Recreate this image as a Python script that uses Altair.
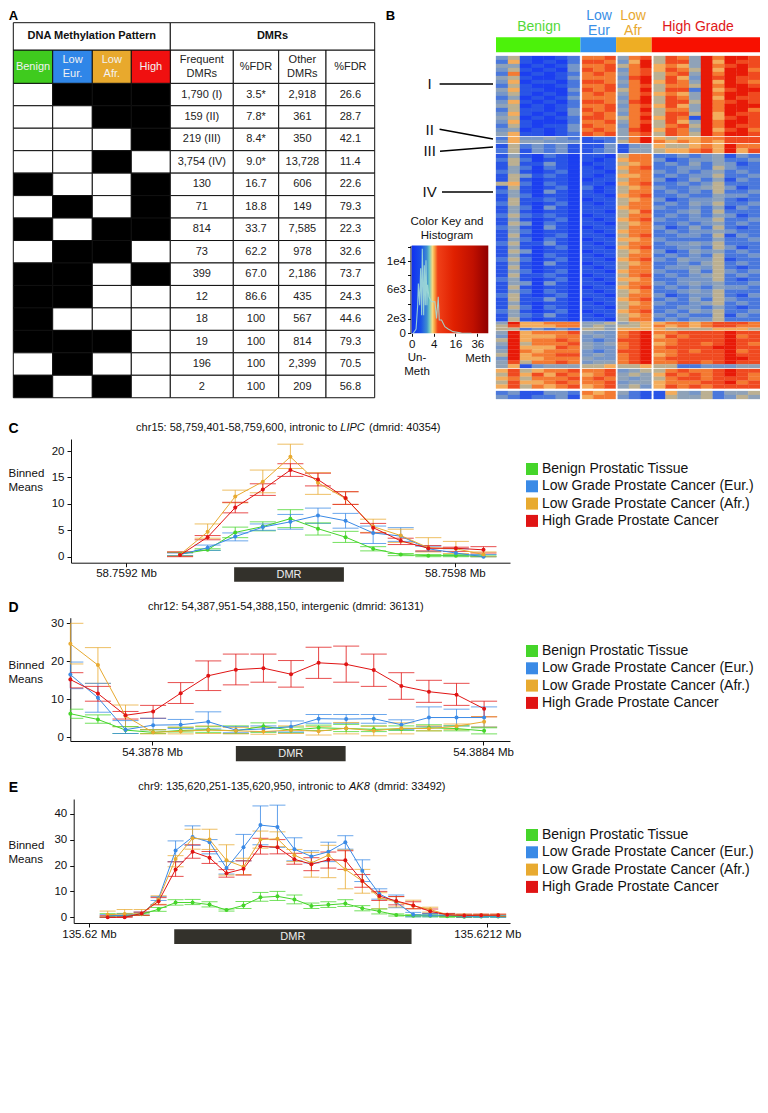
import altair as alt
import pandas as pd

FONT = "Liberation Sans"
W, H = 752, 1097
SERIES = ["Benign Prostatic Tissue", "Low Grade Prostate Cancer (Eur.)",
          "Low Grade Prostate Cancer (Afr.)", "High Grade Prostate Cancer"]
LINE_COLORS = ["#45d52a", "#3a8ae6", "#e8aa30", "#e01414"]

# ---------- Panel A ----------
PATTERNS = ["0111", "0011", "0001", "0010", "1001", "0101", "1011",
            "0110", "1101", "1100", "1000", "1110", "0100", "1010"]
FREQ = ["1,790 (I)", "159 (II)", "219 (III)", "3,754 (IV)", "130", "71", "814",
        "73", "399", "12", "18", "19", "196", "2"]
FDR1 = ["3.5*", "7.8*", "8.4*", "9.0*", "16.7", "18.8", "33.7", "62.2", "67.0",
        "86.6", "100", "100", "100", "100"]
OTHER = ["2,918", "361", "350", "13,728", "606", "149", "7,585", "978", "2,186",
         "435", "567", "814", "2,399", "209"]
FDR2 = ["26.6", "28.7", "42.1", "11.4", "22.6", "79.3", "22.3", "32.6", "73.7",
        "24.3", "44.6", "79.3", "70.5", "56.8"]
HEAD_PATTERN = ["Benign", "Low\nEur.", "Low\nAfr.", "High"]
HEAD_PATTERN_COLORS = ["#3fcb1e", "#2f86e8", "#e8a92d", "#f01010"]
HEAD_DMR = ["Frequent\nDMRs", "%FDR", "Other\nDMRs", "%FDR"]

# ---------- Panel B ----------
GROUPS = ["Benign", "Low\nEur", "Low\nAfr", "High Grade"]
GROUP_TEXT = ["#55d83a", "#3a8fe6", "#e8a830", "#e01818"]
GROUP_BAR = ["#4cf20a", "#3490ee", "#eeae24", "#f81000"]
LEVEL_COLORS = ["#1c3ff0", "#2a55e6", "#4a78dc", "#7696c8", "#8fa2b8", "#bcb092",
                "#f4ac5c", "#f47a32", "#f04a20", "#e81a08"]
BLOCK_I = ["3510012 778 478 587497998", "2610102 887 369 588496988", "4401013 778 579 676497898",
           "3510103 878 378 687596997", "2701012 787 478 578497998", "4510013 777 389 586398988",
           "3601102 887 479 687496987", "2510012 778 378 577597998", "4611003 878 579 588296899",
           "3510102 787 478 676497998", "2401013 777 379 587496988", "3610102 887 489 588597898",
           "4501012 778 378 686497999", "2511013 878 479 577497997", "3610103 787 378 588596988",
           "4501012 887 579 687196898", "3610002 778 478 586497998", "2510113 877 379 578597988",
           "3401013 787 489 687496897", "4611012 878 478 587597998"]
BLOCK_II = ["2633432 122 479 656677888", "3644333 112 579 767676888"]
BLOCK_III = ["1523231 113 134 655676977", "2513231 123 144 566786968"]
BLOCK_IV = ["1410210 110 577 223234132", "2520110 101 677 312334223", "1511310 011 567 232424312",
            "1420210 101 678 223325322", "2410120 110 577 323234232", "1531210 101 667 232335223",
            "1510110 011 577 312424132", "5620210 110 678 223235222", "1510120 201 567 322345312",
            "2410310 101 577 232325223", "1420110 110 678 223224332", "1511210 011 567 312334212",
            "2510120 101 577 232435223", "1420310 111 677 322324132", "1410110 110 568 223425222",
            "2521210 011 577 232324312", "1410120 101 678 322335223", "1530210 110 567 223234232",
            "2410310 011 577 312425212", "1420110 101 677 232334322", "1510120 110 578 223325132",
            "1420210 011 667 322224223", "2511310 101 577 233435222", "1410120 110 678 223325312",
            "1530110 011 567 312434232", "1410210 101 577 232325223", "2520120 110 678 324335122",
            "1410310 011 567 223245232", "1510110 101 577 233435212", "1420120 110 677 322425323",
            "1511210 011 578 232345232", "2410120 101 667 223335212", "1430310 110 577 323434223",
            "1510110 011 678 232324332", "1420210 101 567 223435222", "2510120 110 577 312335213",
            "1511310 011 678 232425322", "1410110 101 567 322345232", "1520210 110 577 223324212",
            "2410120 011 678 232435223", "1421310 101 567 323225132", "1510110 110 577 232335222"]
BLOCK_V = ["4966777 445 456 677678887", "5866677 454 556 767678877"]
BLOCK_VI = ["5523232 554 666 655556665"]
BLOCK_VII = ["4967778 433 789 778888988", "3966677 343 789 687888978", "5967787 323 889 778888988",
             "4957778 434 789 678878987", "3966687 433 789 788889988", "4976777 323 889 778788978",
             "5967788 343 789 678888988", "3966777 433 789 788888998", "4857787 344 789 778878988",
             "4613444 556 556 552233344"]
BLOCK_VIII = ["6856778 778 345 578778988", "5868687 678 454 687878987", "6757778 787 434 578878887",
              "5866787 778 344 677788978", "6857678 678 453 687878888"]
BLOCK_IX = ["2311332 767 421 164352445", "3212231 677 321 154452354"]
BLOCKS = [BLOCK_I, BLOCK_II, BLOCK_III, BLOCK_IV, BLOCK_V, BLOCK_VI, BLOCK_VII, BLOCK_VIII, BLOCK_IX]
ROMAN = ["I", "II", "III", "IV"]

KEY_TICKS_X = [0, 4, 16, 36]
KEY_TICKS_Y = [0, 2000, 4000, 6000, 8000, 10000, 12000]
HIST_V = [0.02, 0.16, 0.3, 0.37, 0.53, 0.67, 0.83, 0.94, 1.19, 1.33, 1.54, 1.7, 1.94, 2.12, 2.48,
          3.3, 4.12, 4.5, 5.17, 5.88, 6.33, 7.44, 9.18, 11.1, 14.3, 20.7, 29.8]
HIST_N = [0, 600, 3900, 6900, 3900, 9000, 2500, 11700, 2500, 9400, 3900, 10100, 3900, 6700, 5060,
          4370, 4370, 4370, 2070, 5060, 1840, 1840, 920, 600, 230, 50, 0]

# ---------- Panel C ----------
C_X = [58.759303, 58.759353, 58.759403, 58.759453, 58.759503, 58.759553, 58.759603, 58.759653,
       58.759703, 58.759753, 58.759803, 58.759853]
C_RED = [.3, 3.7, 9.3, 12.7, 16.4, 14.6, 11.1, 5.5, 3, 1.6, 1.6, 1.3]
C_RED_LO = [0, 3.2, 8.3, 11.6, 15.2, 13.4, 9.9, 4.5, 2.3, 1.1, 1, .7]
C_RED_HI = [.9, 4, 10.3, 13.8, 17.6, 15.8, 12.3, 6.3, 3.5, 2.1, 1.8, 1.9]
C_ORA = [.4, 4.7, 11.4, 14.2, 18.9, 14, 11, 5.7, 4, 1.7, 1.5, .4]
C_ORA_LO = [.1, 3.5, 10.2, 12.1, 16.7, 11.8, 9.9, 4.6, 2.7, .9, .6, 0]
C_ORA_HI = [.9, 6.2, 12.6, 16.4, 21.3, 15.9, 12.3, 7.1, 5.2, 3.6, 2.9, .9]
C_BLU = [.4, 1.7, 3.8, 5.6, 6.6, 7.8, 6.8, 4.5, 3.9, 1.5, .7, 0]
C_BLU_LO = [.2, 1.2, 3, 5, 5.2, 6.3, 5.4, 2.5, 2.9, 1, .2, 0]
C_BLU_HI = [.7, 2.2, 4.5, 6.2, 8, 9.2, 8.2, 5.8, 5.5, 2, 1.5, .4]
C_GRN = [.5, 1.3, 4.6, 5.7, 7.2, 5.3, 3.7, 1.5, .4, .2, .2, .1]
C_GRN_LO = [.2, 1.2, 3.6, 4.9, 5.5, 4.1, 2.7, 1.1, .2, 0, 0, 0]
C_GRN_HI = [.8, 1.5, 5.6, 6.6, 8.9, 6.4, 4.8, 1.9, .6, .4, .4, .3]

# ---------- Panel D ----------
D_X = [54.387651, 54.387701, 54.387751, 54.387801, 54.387851, 54.387901, 54.387951, 54.388001,
       54.388051, 54.388101, 54.388151, 54.388201, 54.388251, 54.388301, 54.388351, 54.388401]
D_RED = [15.2, 11.5, 5.8, 6.8, 11.6, 16.2, 17.8, 18.2, 16.6, 19.6, 19.2, 17.7, 13.5, 12, 11.2, 7.5]
D_RED_LO = [13, 9.5, 4.8, 5, 8.9, 12.3, 13.8, 14.5, 13.2, 15.5, 14.5, 13.4, 10, 9.2, 8.4, 5.4]
D_RED_HI = [17, 13.4, 6.8, 8.4, 14.4, 20.1, 21.9, 21.9, 20.2, 23.7, 24, 21.9, 17, 15, 14.2, 9.5]
D_ORA = [24.6, 19, 5.6, 1.3, 1.6, 1.9, 1.7, 1.5, 1.9, 1.6, 2.4, 1.7, 2.4, 2.3, 2.9, 4.1]
D_ORA_LO = [19.3, 14.2, 2.8, .9, .9, 1, .9, .8, 1, .6, .9, .4, .9, 1.7, 2, 2.7]
D_ORA_HI = [30, 23.6, 8.5, 2, 2.7, 3, 2.6, 2.6, 3, 2.8, 3.9, 2.9, 3.8, 3, 3.5, 5.4]
D_BLU = [16.5, 10.4, 2, 3.2, 3.3, 4.1, 1.9, 2.2, 2.8, 4.9, 4.8, 4.9, 3.3, 5.2, 5.2, 5.2]
D_BLU_LO = [12.8, 6.6, 1, 2, 2.3, 2.2, 1.2, 1.5, 1.4, 3.7, 3.7, 3.7, 2, 2.8, 3, 2.7]
D_BLU_HI = [19.8, 14.2, 4.4, 5, 4.7, 6.7, 2.8, 3, 4.3, 6, 6, 6, 4.6, 8, 7.4, 8]
D_GRN = [6.2, 4.7, 1.9, 1.3, 1.8, 2, 1.7, 2.9, 1.9, 2.5, 2.3, 2.1, 2.2, 2.5, 2.3, 1.7]
D_GRN_LO = [5, 3.7, 1, 1, 1.4, 1.3, 1, 1.3, 1.2, 1.8, 1.5, 1.5, 1.8, 1.7, 1.7, .9]
D_GRN_HI = [7.4, 5.9, 2.8, 2, 2.6, 2.8, 3, 3.8, 2.7, 3.2, 3.4, 3, 3, 3.3, 3, 2.5]

# ---------- Panel E ----------
E_X = [135.620055, 135.620105, 135.620155, 135.620205, 135.620255, 135.620305, 135.620355, 135.620405,
       135.620455, 135.620505, 135.620555, 135.620605, 135.620655, 135.620705, 135.620755, 135.620805,
       135.620855, 135.620905, 135.620955, 135.621005, 135.621055, 135.621105, 135.621155, 135.621205]
E_RED = [0, 0, 1.5, 6.2, 18.5, 25.3, 23, 17, 18.7, 27.4, 27, 22.4, 20.5, 22.2, 22, 14, 8.2, 6.3, 4.6, 2.3, 1, .7, .8, .8]
E_RED_LO = [0, 0, .8, 4.8, 15.8, 22.8, 20.8, 15.5, 16.3, 24.4, 24.5, 20.5, 18, 19, 18.5, 11.6, 6.5, 4.8, 3.3, 1.5, .6, .2, .4, .4]
E_RED_HI = [.6, .6, 2, 7.6, 21.4, 28, 25.4, 18.4, 21.8, 30.5, 30, 24.7, 23, 25.2, 25.7, 16.5, 10, 8, 6, 3.2, 1.5, 1.2, 1.2, 1.2]
E_ORA = [1, 1.3, 1.3, 7, 22.5, 30.5, 30, 22, 19.5, 30, 30.3, 24, 21, 24, 18.5, 14, 7.5, 6, 4.5, 3, 1, .8, .8, .8]
E_ORA_LO = [.2, .5, .7, 5, 19.5, 26.3, 26.2, 16.3, 16.5, 26.7, 27.3, 21.5, 15.5, 15.3, 11, 9.3, 3.3, 4, 3.3, 2, .5, .3, .3, .3]
E_ORA_HI = [2.4, 3, 3, 8.3, 23.8, 34, 34, 28, 22.8, 33.3, 33, 26.2, 25, 27.8, 26, 18.5, 9.5, 8, 6.6, 3.9, 1.3, 1.2, 1.2, 1.2]
E_BLU = [.5, .8, 1.3, 7.3, 25.8, 31, 29, 19, 27, 35.6, 34.9, 26.3, 23.5, 25.3, 29, 18, 9, 5.8, 1, .8, .8, .4, .4, .4]
E_BLU_LO = [.1, .3, .8, 6.5, 21.5, 27.8, 24.5, 16.7, 21.8, 28, 27, 21.8, 21, 21.5, 26.3, 13.8, 7, 3.7, .2, .2, .3, 0, 0, 0]
E_BLU_HI = [1, 1.3, 2, 8, 29.5, 35.3, 30, 21.5, 32, 43, 43.3, 30.7, 25.7, 29, 31.5, 22.2, 11, 8.6, 1.9, 1.5, 1.3, 1, 1, .8]
E_GRN = [.5, .7, 1.2, 3.1, 5.7, 5.7, 4.9, 2.8, 4.6, 7.7, 8.1, 6.9, 4.4, 4.8, 5.3, 3.5, 2.3, .9, .6, .6, .4, .2, .3, .3]
E_GRN_LO = [0, .3, .8, 2.3, 4.7, 4.9, 4, 2.4, 3.4, 6.2, 6.5, 5.2, 3.4, 3.8, 4.2, 2.5, 1.3, .5, .2, .2, 0, 0, 0, 0]
E_GRN_HI = [1.4, 1.5, 1.6, 3.8, 6.8, 6.9, 6, 3.2, 6.1, 9.6, 10, 8.6, 5.5, 6, 6.8, 4.5, 3.2, 1.3, 1, 1, .8, .6, .6, .6]

# ---------- layout (page pixels) ----------
TABLE_X = [13.3, 52.7, 92.3, 131.3, 170.3, 233.3, 278.7, 326, 374.7]
TABLE_Y0, TABLE_Y1, TABLE_Y2, TABLE_STEP = 22.7, 50, 83.3, 22.46
HEAT_X = [(496, 579.8), (582.1, 615.7), (617.7, 651.4), (653.7, 760)]
HEAT_N = [7, 3, 3, 9]
BAR_X = [496, 580.4, 616.1, 651.7, 760]
BLOCK_Y = [(56, 136), (137, 143), (144, 153), (154, 321.5), (322, 327.5), (328, 330.3),
           (331, 368), (369, 388.5), (391, 399)]
GROUP_LABEL_X = [539, 599, 633, 698]
GROUP_LABEL_Y = [27, 23.5, 23.5, 27]
ROMAN_X, ROMAN_Y = 429.7, [84, 130, 150.5, 192]
ROMAN_LINES = [(439.6, 84, 493, 84), (439.6, 129.3, 493, 139), (440, 151.3, 493, 147), (442, 192, 493, 192)]

PXX = alt.Scale(domain=[0, 768], range=[-8, 760], nice=False, zero=False)
PXY = alt.Scale(domain=[0, 1113], range=[-8, 1105], nice=False, zero=False)


def mid(t, y, line):
    """y of the first line so that a multi-line text is centred on y."""
    return y - (t.count("\n")) * line / 2


def text_at(t, x, y, size=11, color="#111", weight="normal", style="normal", align="center", line=14):
    return alt.Chart(pd.DataFrame({"t": [t]})).mark_text(
        font=FONT, fontSize=size, color=color, fontWeight=weight, fontStyle=style,
        align=align, baseline="middle", lineBreak="\n", lineHeight=line
    ).encode(x=alt.value(x - 8), y=alt.value(mid(t, y, line) - 8), text="t:N")


def X(f, **k):
    return alt.X(f, scale=PXX, axis=None, **k)


def Y(f, **k):
    return alt.Y(f, scale=PXY, axis=None, **k)


# ---- Panel A ----
cells, texts = [], []
x = TABLE_X
for r in range(14):
    top = TABLE_Y2 + r * TABLE_STEP
    for c in range(4):
        cells.append(dict(x=x[c], x2=x[c + 1], y=top, y2=top + TABLE_STEP,
                          f="#000000" if PATTERNS[r][c] == "1" else "#ffffff"))
    for c, col in enumerate([FREQ, FDR1, OTHER, FDR2]):
        cells.append(dict(x=x[c + 4], x2=x[c + 5], y=top, y2=top + TABLE_STEP, f="#ffffff"))
        texts.append(dict(x=(x[c + 4] + x[c + 5]) / 2, y=top + TABLE_STEP / 2, t=col[r], c="#222222"))
HY = (TABLE_Y1 + TABLE_Y2) / 2
for c in range(4):
    cells.append(dict(x=x[c], x2=x[c + 1], y=TABLE_Y1, y2=TABLE_Y2, f=HEAD_PATTERN_COLORS[c]))
    texts.append(dict(x=(x[c] + x[c + 1]) / 2, y=mid(HEAD_PATTERN[c], HY, 14), t=HEAD_PATTERN[c], c="#f2f2f2"))
    cells.append(dict(x=x[c + 4], x2=x[c + 5], y=TABLE_Y1, y2=TABLE_Y2, f="#ffffff"))
    texts.append(dict(x=(x[c + 4] + x[c + 5]) / 2, y=mid(HEAD_DMR[c], HY, 14), t=HEAD_DMR[c], c="#222222"))
cells.append(dict(x=x[0], x2=x[4], y=TABLE_Y0, y2=TABLE_Y1, f="#ffffff"))
cells.append(dict(x=x[4], x2=x[8], y=TABLE_Y0, y2=TABLE_Y1, f="#ffffff"))
cells_df, texts_df = pd.DataFrame(cells), pd.DataFrame(texts)
head_df = pd.DataFrame(dict(x=[(x[0] + x[4]) / 2, (x[4] + x[8]) / 2], y=[(TABLE_Y0 + TABLE_Y1) / 2] * 2,
                            t=["DNA Methylation Pattern", "DMRs"]))
panel_a = [
    alt.Chart(cells_df).mark_rect(stroke="#111", strokeWidth=1).encode(
        X("x:Q"), x2="x2:Q", y=Y("y:Q"), y2="y2:Q", fill=alt.Fill("f:N", scale=None)),
    alt.Chart(texts_df).mark_text(font=FONT, fontSize=11, baseline="middle", lineBreak="\n", lineHeight=14).encode(
        X("x:Q"), y=Y("y:Q"), text="t:N", color=alt.Color("c:N", scale=None)),
    alt.Chart(head_df).mark_text(font=FONT, fontSize=11, fontWeight="bold", baseline="middle", color="#111").encode(
        X("x:Q"), y=Y("y:Q"), text="t:N"),
]

# ---- Panel B ----
heat = []
col_edges = []
for (a, b), n in zip(HEAT_X, HEAT_N):
    w = (b - a) / n
    col_edges += [(a + i * w, a + (i + 1) * w) for i in range(n)]
for rows, (y0, y1) in zip(BLOCKS, BLOCK_Y):
    h = (y1 - y0) / len(rows)
    for i, row in enumerate(rows):
        digits = row.replace(" ", "")
        assert len(digits) == 22, row
        for c, d in enumerate(digits):
            heat.append(dict(x=col_edges[c][0], x2=col_edges[c][1], y=y0 + i * h, y2=y0 + (i + 1) * h, v=int(d)))
heat_df = pd.DataFrame(heat)
LV = alt.Scale(domain=list(range(10)), range=LEVEL_COLORS)
bar_df = pd.DataFrame(dict(x=BAR_X[:-1], x2=BAR_X[1:], y=[37.3] * 4, y2=[52.3] * 4, f=GROUP_BAR))
glabel_df = pd.DataFrame(dict(x=GROUP_LABEL_X, y=[mid(t, y, 15) for t, y in zip(GROUPS, GROUP_LABEL_Y)],
                              t=GROUPS, c=GROUP_TEXT))
roman_df = pd.DataFrame(dict(x=[ROMAN_X] * 4, y=ROMAN_Y, t=ROMAN))
rline_df = pd.DataFrame(ROMAN_LINES, columns=["x", "y", "x2", "y2"])
rline_df["id"] = range(4)
rline_long = pd.concat([
    rline_df[["x", "y", "id"]],
    rline_df[["x2", "y2", "id"]].rename(columns={"x2": "x", "y2": "y"}),
])
panel_b = [
    alt.Chart(heat_df).mark_rect(strokeWidth=0.3).encode(
        X("x:Q"), x2="x2:Q", y=Y("y:Q"), y2="y2:Q",
        color=alt.Color("v:O", scale=LV, legend=None),
        stroke=alt.Stroke("v:O", scale=LV, legend=None)),
    alt.Chart(bar_df).mark_rect().encode(
        X("x:Q"), x2="x2:Q", y=Y("y:Q"), y2="y2:Q", fill=alt.Fill("f:N", scale=None)),
    alt.Chart(glabel_df).mark_text(font=FONT, fontSize=14, baseline="middle", lineBreak="\n", lineHeight=15).encode(
        X("x:Q"), y=Y("y:Q"), text="t:N", color=alt.Color("c:N", scale=None)),
    alt.Chart(roman_df).mark_text(font=FONT, fontSize=15, baseline="middle", color="#111").encode(
        X("x:Q"), y=Y("y:Q"), text="t:N"),
    alt.Chart(rline_long).mark_line(color="#000", strokeWidth=1.5).encode(
        X("x:Q"), y=Y("y:Q"), detail="id:N"),
]

# ---- Colour key ----
KX = alt.Scale(type="sqrt", domain=[0, 49], range=[411.7 - 8, 488.3 - 8], nice=False)
KY = alt.Scale(domain=[0, 12150], range=[333.3 - 8, 245.5 - 8], nice=False, zero=False)
GRAD = alt.LinearGradient(gradient="linear", x1=0, x2=1, y1=0, y2=0, stops=[
    alt.GradientStop(color="#1030f0", offset=0), alt.GradientStop(color="#1a50e8", offset=.12),
    alt.GradientStop(color="#3f90d0", offset=.2), alt.GradientStop(color="#70c8c0", offset=.23),
    alt.GradientStop(color="#f8d880", offset=.27), alt.GradientStop(color="#f8a040", offset=.3),
    alt.GradientStop(color="#f04018", offset=.34), alt.GradientStop(color="#e02000", offset=.55),
    alt.GradientStop(color="#c01000", offset=.8), alt.GradientStop(color="#900000", offset=1)])
key_axis_x = alt.Axis(orient="bottom", values=KEY_TICKS_X, offset=333.3 - 8 - H, title=None, grid=False,
                      domain=False, tickColor="#111", tickSize=3, labelFont=FONT, labelFontSize=11.5,
                      labelColor="#111", labelPadding=2, labelFlush=False, labelOverlap=False)
key_axis_y = alt.Axis(orient="left", values=KEY_TICKS_Y, offset=-(410.5 - 8), title=None, grid=False,
                      domainColor="#111", tickColor="#111", tickSize=3, labelFont=FONT, labelFontSize=11.5,
                      labelColor="#111", labelPadding=2, labelOverlap=False,
                      labelExpr="datum.value==0?'0':datum.value==2000?'2e3':datum.value==6000?'6e3':datum.value==10000?'1e4':''")
panel_key = [
    alt.Chart(pd.DataFrame(dict(a=[0], b=[49], c=[0], d=[12150]))).mark_rect(fill=GRAD).encode(
        x=alt.X("a:Q", scale=KX, axis=key_axis_x), x2="b:Q",
        y=alt.Y("c:Q", scale=KY, axis=key_axis_y), y2="d:Q"),
    alt.Chart(pd.DataFrame(dict(v=HIST_V, n=HIST_N))).mark_line(color="#a2dcd6", strokeWidth=1.1, opacity=.9).encode(
        x=alt.X("v:Q", scale=KX, axis=None), y=alt.Y("n:Q", scale=KY, axis=None)),
]

# ---- Line panels ----
CAP_HALF = 0.0000236


def line_panel(xs, data, t0, t1, px0, px_per_mb, x_img, y0_img, px_per_unit, y_bot, y_top, yticks,
               dmr, bar_y, legend_y, fmt, title_y):
    rows = []
    for name, (m, lo, hi) in zip(SERIES, data):
        for a, b, c, d in zip(xs, m, lo, hi):
            rows.append(dict(x=a, xl=a - CAP_HALF, xh=a + CAP_HALF, m=b, lo=c, hi=d, s=name))
    df = pd.DataFrame(rows)
    xs_ = alt.Scale(domain=[t0 + (x_img[0] - px0) / px_per_mb, t0 + (x_img[1] - px0) / px_per_mb],
                    range=[x_img[0] - 8, x_img[1] - 8], clamp=True, nice=False, zero=False)
    ys_ = alt.Scale(domain=[(y0_img - y_bot) / px_per_unit, (y0_img - y_top) / px_per_unit],
                    range=[y_bot - 8, y_top - 8], nice=False, zero=False)
    cs = alt.Scale(domain=SERIES, range=LINE_COLORS)
    col = alt.Color("s:N", scale=cs, legend=None)
    xa = alt.Axis(orient="bottom", values=[t0, t1], offset=y_bot - 8 - H, title=None, grid=False,
                  domainColor="#111", tickColor="#111", tickSize=4, labelFont=FONT, labelFontSize=11.5,
                  labelColor="#111", labelPadding=1, labelFlush=False, labelOverlap=False,
                  labelExpr=f"format(datum.value,'{fmt}')+' Mb'")
    ya = alt.Axis(orient="left", values=yticks, offset=-(x_img[0] - 8), grid=False,
                  title=["Binned", "Means"], titleAngle=0, titleAlign="left", titleBaseline="middle",
                  titleFont=FONT, titleFontSize=11.5, titleFontWeight="normal", titleColor="#111",
                  titleLineHeight=14, titleX=-(x_img[0] - 8), titleY=title_y - 8,
                  domainColor="#111", tickColor="#111", tickSize=4, labelFont=FONT, labelFontSize=11.5,
                  labelColor="#111", labelPadding=3, labelOverlap=False)
    xe = alt.X("x:Q", scale=xs_, axis=None)
    xl = alt.X("xl:Q", scale=xs_, axis=None)
    ye = alt.Y("m:Q", scale=ys_, axis=None)
    base = alt.Chart(df)
    return [
        base.mark_rule(strokeWidth=1, opacity=.8).encode(x=xe, y=alt.Y("lo:Q", scale=ys_, axis=None), y2="hi:Q", color=col),
        base.mark_rule(strokeWidth=1, opacity=.75).encode(x=xl, x2="xh:Q", y=alt.Y("lo:Q", scale=ys_, axis=None), color=col),
        base.mark_rule(strokeWidth=1, opacity=.75).encode(x=xl, x2="xh:Q", y=alt.Y("hi:Q", scale=ys_, axis=None), color=col),
        base.mark_line(strokeWidth=1).encode(x=alt.X("x:Q", scale=xs_, axis=xa), y=alt.Y("m:Q", scale=ys_, axis=ya), color=col),
        base.mark_circle(size=16, opacity=1).encode(
            x=xe, y=ye,
            color=alt.Color("s:N", scale=cs, legend=alt.Legend(
                orient="none", legendX=517, legendY=legend_y - 8, title=None, symbolType="square", symbolSize=144,
                symbolOpacity=1, symbolStrokeWidth=0, labelFont=FONT, labelFontSize=14, labelColor="#111",
                labelOffset=3, rowPadding=3.3, padding=0, labelLimit=300))),
        alt.Chart(pd.DataFrame(dict(a=[dmr[0]], b=[dmr[1]]))).mark_rect(color="#33312b").encode(
            x=alt.X("a:Q", scale=xs_, axis=None), x2="b:Q",
            y=alt.value(bar_y[0] - 8), y2=alt.value(bar_y[1] - 8)),
        alt.Chart(pd.DataFrame(dict(a=[(dmr[0] + dmr[1]) / 2], t=["DMR"]))).mark_text(
            font=FONT, fontSize=11, color="#eeeeee", baseline="middle").encode(
            x=alt.X("a:Q", scale=xs_, axis=None), y=alt.value((bar_y[0] + bar_y[1]) / 2 - 8), text="t:N"),
    ]


panel_c = line_panel(C_X, [(C_GRN, C_GRN_LO, C_GRN_HI), (C_BLU, C_BLU_LO, C_BLU_HI),
                           (C_ORA, C_ORA_LO, C_ORA_HI), (C_RED, C_RED_LO, C_RED_HI)],
                     58.759205, 58.759801, 126, 551667, (71, 510), 556.7, 5.283, 562.7, 439, [0, 5, 10, 15, 20],
                     (58.759401, 58.7596), (567.3, 581.7), 462, ".6~r", 473)
panel_d = line_panel(D_X, [(D_GRN, D_GRN_LO, D_GRN_HI), (D_BLU, D_BLU_LO, D_BLU_HI),
                           (D_ORA, D_ORA_LO, D_ORA_HI), (D_RED, D_RED_LO, D_RED_HI)],
                     54.387799, 54.388399, 152, 551667, (70.3, 510), 737.3, 3.8, 741, 617.7, [0, 10, 20, 30],
                     (54.387951, 54.38815), (746, 761.3), 644, ".6~r", 665)
panel_e = line_panel(E_X, [(E_GRN, E_GRN_LO, E_GRN_HI), (E_BLU, E_BLU_LO, E_BLU_HI),
                           (E_ORA, E_ORA_LO, E_ORA_HI), (E_RED, E_RED_LO, E_RED_HI)],
                     135.62, 135.621173, 89, 339533, (73.7, 510), 917.3, 2.59, 923, 799, [0, 10, 20, 30, 40],
                     (135.620251, 135.62095), (929.3, 944), 828, ".7~r", 845)

labels = [
    text_at("A", 13.5, 16, 13, "#000", "bold"), text_at("B", 390.5, 16, 13, "#000", "bold"),
    text_at("C", 13.5, 429, 14, "#000", "bold"), text_at("D", 13.5, 608, 14, "#000", "bold"),
    text_at("E", 13.5, 788, 14, "#000", "bold"),
    text_at("Color Key and\nHistogram", 447, 229, 11.5),
    text_at("Un-\nMeth", 417, 365, 11.5), text_at("Meth", 478, 358.5, 11.5),
    text_at("chr15: 58,759,401-58,759,600, intronic to", 337.3, 428, 11, align="right"),
    text_at("LIPC", 340.3, 428, 11, style="italic", align="left"),
    text_at("(dmrid: 40354)", 369, 428, 11, align="left"),
    text_at("chr12: 54,387,951-54,388,150, intergenic (dmrid: 36131)", 285.8, 607.3, 11),
    text_at("chr9: 135,620,251-135,620,950, intronic to", 345.7, 787.3, 11, align="right"),
    text_at("AK8", 349, 787.3, 11, style="italic", align="left"),
    text_at("(dmrid: 33492)", 374, 787.3, 11, align="left"),
]

chart = alt.layer(*panel_a, *panel_b, *panel_key, *panel_c, *panel_d, *panel_e, *labels).resolve_scale(
    x="independent", y="independent", color="independent", stroke="independent", fill="independent"
).properties(
    width=W, height=H, padding=0, autosize=alt.AutoSizeParams(type="none"), background="#ffffff"
).configure_view(strokeWidth=0)

chart.save("out.html", embed_options={"renderer": "svg", "actions": False})
